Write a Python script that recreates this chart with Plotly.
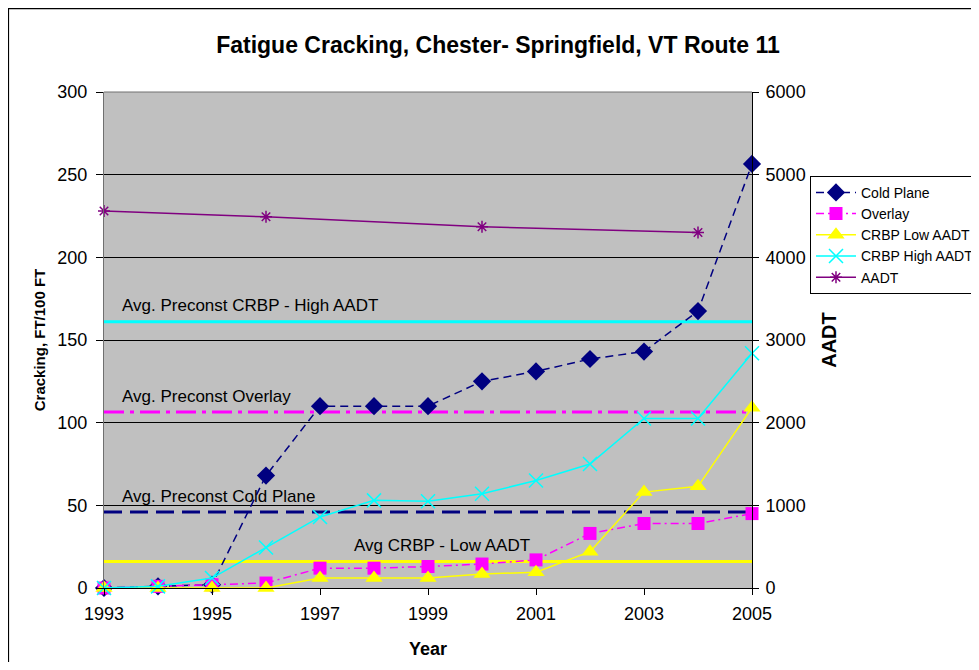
import plotly.graph_objects as go

# data
years = [1993, 1994, 1995, 1996, 1997, 1998, 1999, 2000, 2001, 2002, 2003, 2004, 2005]
cold_plane = [0, 1, 2, 68, 110, 110, 110, 125, 131, 138.5, 143, 167.5, 256.5]
overlay = [0, 1, 2, 3, 12, 12, 13, 14.5, 17, 33, 39, 39, 45]
crbp_low = [0, 0, 0, 0, 6, 6, 6, 8.5, 9.5, 22, 58, 61.5, 109]
crbp_high = [0, 1, 6, 24.5, 43, 53, 52.5, 57, 65, 75, 102.5, 102.5, 142]
aadt_years = [1993, 1996, 2000, 2004]
aadt = [4560, 4490, 4370, 4300]

# average pre-construction reference levels
ref_years = [1993, 2005]
avg_high = 161
avg_overlay = 106.5
avg_cold = 46
avg_low = 16

FONT = "Arial, Liberation Sans, sans-serif"

fig = go.Figure()

# reference lines (no legend entries)
fig.add_trace(go.Scatter(x=ref_years, y=[avg_high, avg_high], mode="lines",
                         line=dict(color="#00FFFF", width=3), showlegend=False, hoverinfo="skip"))
fig.add_trace(go.Scatter(x=ref_years, y=[avg_overlay, avg_overlay], mode="lines",
                         line=dict(color="#FF00FF", width=3, dash="20px,6px,4px,6px"),
                         showlegend=False, hoverinfo="skip"))
fig.add_trace(go.Scatter(x=ref_years, y=[avg_cold, avg_cold], mode="lines",
                         line=dict(color="#000080", width=3, dash="18px,8px"),
                         showlegend=False, hoverinfo="skip"))
fig.add_trace(go.Scatter(x=ref_years, y=[avg_low, avg_low], mode="lines",
                         line=dict(color="#FFFF00", width=3), showlegend=False, hoverinfo="skip"))

# series
fig.add_trace(go.Scatter(x=years, y=cold_plane, name="Cold Plane", mode="lines+markers",
                         line=dict(color="#000080", width=1.5, dash="8px,5px"),
                         marker=dict(symbol="diamond", size=14, color="#000080"),
                         cliponaxis=False))
fig.add_trace(go.Scatter(x=years, y=overlay, name="Overlay", mode="lines+markers",
                         line=dict(color="#FF00FF", width=1.5, dash="8px,4px,2px,4px"),
                         marker=dict(symbol="square", size=13, color="#FF00FF"),
                         cliponaxis=False))
fig.add_trace(go.Scatter(x=years, y=crbp_low, name="CRBP Low AADT", mode="lines+markers",
                         line=dict(color="#FFFF00", width=1.5),
                         marker=dict(symbol="triangle-up", size=15, color="#FFFF00"),
                         cliponaxis=False))
fig.add_trace(go.Scatter(x=years, y=crbp_high, name="CRBP High AADT", mode="lines+markers",
                         line=dict(color="#00FFFF", width=1.5),
                         marker=dict(symbol="x-thin", size=14, line=dict(color="#00FFFF", width=1.5)),
                         cliponaxis=False))
fig.add_trace(go.Scatter(x=aadt_years, y=aadt, name="AADT", mode="lines+markers", yaxis="y2",
                         line=dict(color="#800080", width=1.5),
                         marker=dict(symbol="asterisk-open", size=10, line=dict(color="#800080", width=1.5)),
                         cliponaxis=False))

ann_font = dict(family=FONT, size=17, color="black")
for txt, xx, yy in [("Avg. Preconst CRBP - High AADT", 1993.3, 171),
                    ("Avg. Preconst Overlay", 1993.3, 116),
                    ("Avg. Preconst Cold Plane", 1993.3, 55.5),
                    ("Avg CRBP - Low AADT", 1997.6, 25.5)]:
    fig.add_annotation(x=xx, y=yy, text=txt, showarrow=False, xanchor="left",
                       yanchor="middle", font=ann_font)

# outer chart border
fig.add_shape(type="rect", xref="paper", yref="paper", x0=-0.148, x1=1.3457, y0=-0.2, y1=1.169,
              line=dict(color="black", width=2), layer="below")

fig.update_layout(
    width=971, height=654,
    margin=dict(l=96, r=227, t=84, b=74, autoexpand=False),
    paper_bgcolor="white", plot_bgcolor="#C0C0C0",
    font=dict(family=FONT, size=18, color="black"),
    title=dict(text="<b>Fatigue Cracking, Chester- Springfield, VT Route 11</b>",
               x=0.5046, xanchor="center", y=0.9434, yanchor="middle",
               font=dict(family=FONT, size=23)),
    xaxis=dict(range=[1993, 2005], tickvals=[1993, 1995, 1997, 1999, 2001, 2003, 2005],
               ticks="outside", ticklen=6, tickcolor="black", showgrid=False, zeroline=False,
               showline=True, linecolor="black", linewidth=1, ticklabelstandoff=3,
               automargin=False,
               title=dict(text="<b>Year</b>", standoff=19, font=dict(size=18))),
    yaxis=dict(range=[0, 300], dtick=50, ticks="outside", ticklen=7, tickcolor="black",
               showgrid=True, gridcolor="black", gridwidth=1, zeroline=False,
               showline=True, linecolor="#707070", linewidth=1, automargin=False,
               ticklabelstandoff=5,
               title=dict(text="<b>Cracking, FT/100 FT</b>", standoff=8, font=dict(size=15))),
    yaxis2=dict(range=[0, 6000], dtick=1000, overlaying="y", side="right",
                ticks="outside", ticklen=6, tickcolor="black", showgrid=False, zeroline=False,
                showline=True, linecolor="black", linewidth=1, automargin=False,
                ticklabelstandoff=3,
                title=dict(text="<b>AADT</b>", standoff=17, font=dict(size=20))),
    legend=dict(x=1.0895, y=0.831, xanchor="left", yanchor="top",
                bgcolor="white", bordercolor="black", borderwidth=1,
                font=dict(family=FONT, size=14), tracegroupgap=0, itemwidth=40),
    showlegend=True,
)

# gray top border of plot area
fig.add_shape(type="line", xref="paper", yref="paper", x0=0, x1=1, y0=1, y1=1,
              line=dict(color="#707070", width=1))

fig.write_html("out.html")
